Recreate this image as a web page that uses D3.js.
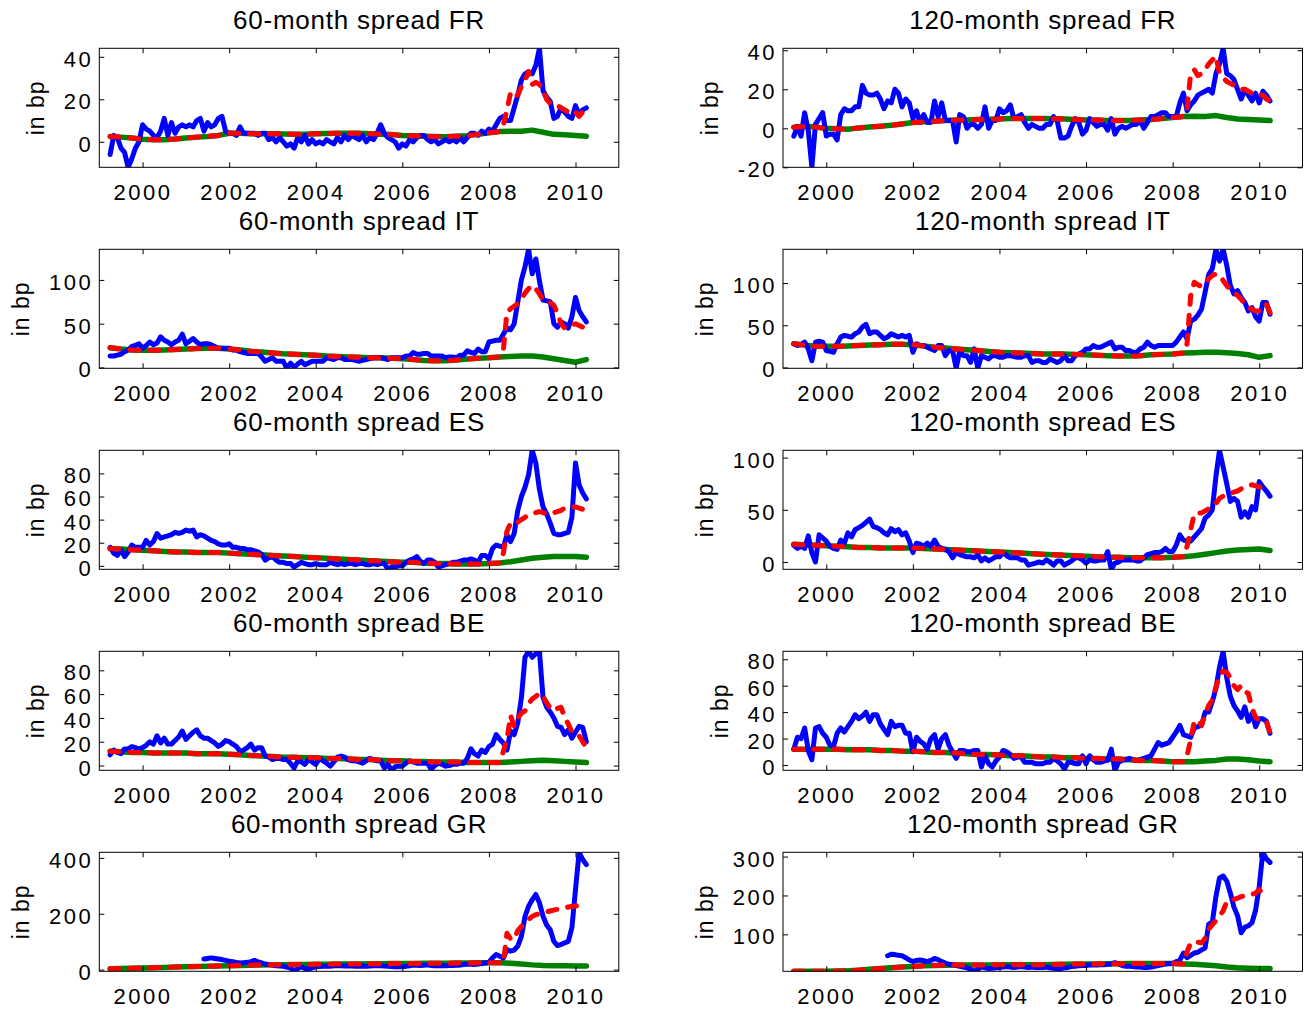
<!DOCTYPE html>
<html>
<head>
<meta charset="utf-8">
<script src="https://cdn.jsdelivr.net/npm/d3@7"></script>
<style>
  body { margin: 0; background: #fff; }
  text { font-family: "Liberation Sans", Arial, sans-serif; fill: #000; }
  .tick text { font-size: 22px; letter-spacing: 2.5px; }
  .title { font-size: 26px; letter-spacing: 0.75px; }
  .ylab { font-size: 23px; letter-spacing: 1px; }
</style>
</head>
<body>
<svg id="chart" width="1315" height="1013"></svg>
<script>
// monthly observations start April 1999, smooth component is quarterly,
// model fit departs from the smooth component from May 2008 on
var firstObs = 1999 + 3 / 12;
var fitStart = 2008 + 4 / 12;
var xTicks = [2000, 2002, 2004, 2006, 2008, 2010];

var titles = ["60-month spread FR", "120-month spread FR", "60-month spread IT", "120-month spread IT",
  "60-month spread ES", "120-month spread ES", "60-month spread BE", "120-month spread BE",
  "60-month spread GR", "120-month spread GR"];

var fr60Ticks = [0, 20, 40];
var fr120Ticks = [-20, 0, 20, 40];
var it60Ticks = [0, 50, 100];
var it120Ticks = [0, 50, 100];
var es60Ticks = [0, 20, 40, 60, 80];
var es120Ticks = [0, 50, 100];
var be60Ticks = [0, 20, 40, 60, 80];
var be120Ticks = [0, 20, 40, 60, 80];
var gr60Ticks = [0, 200, 400];
var gr120Ticks = [100, 200, 300];

// ---- France ----
var fr60Actual = [
  -6, 3, 2, -3, -5, -12, -8, -3, 0,
  8, 6, 5, 3, 2, 5, 11, 3, 9, 4, 7, 8,
  7, 8, 7, 10, 11, 5, 9, 7, 8, 11, 12, 5,
  4, 4, 3, 7, 4, 4, 4, 4, 3, 4, 4, 1,
  2, 0, 2, 0, -2, -1, -3, 2, 0, 3, -1, 1,
  -1, 0, -1, 1, 0, -1, 2, 0, 3, 1, 3, 2,
  1, 3, 0, 2, 1, 4, 8, 4, 2, 1, 0, -3,
  -1, -2, 1, 0, 2, 3, 3, 1, 0, 1, -1, 0,
  1, 0, 1, 0, 2, 0, 2, 4, 4, 3, 5, 4,
  6, 5, 8, 11, 12, 10, 10, 16, 22, 29, 32, 33,
  32, 36, 44, 24, 21, 19, 11, 12, 16, 14, 12, 11,
  17, 13, 15, 16];
var fr60Trend = [2.5, 2.2, 1.8, 1.2, 1.0, 1.0, 1.3, 1.8, 2.2, 2.5, 3.0, 4.0, 4.0, 3.8, 3.8,
  3.8, 3.7, 3.6, 3.6, 3.8, 3.9, 4.0, 4.0, 4.0, 3.8, 3.6, 3.4, 3.0, 2.8, 2.6, 2.5,
  2.4, 2.6, 2.9, 3.5, 4.2, 4.8, 5.0, 5.0, 5.5, 4.5, 3.5, 3.3, 3.0, 2.6];
var fr60Fit = [8, 15, 23, 21, 22, 26, 29, 33, 27, 28, 27, 24, 20, 18, 17, 17, 16, 15, 14, 13, 14, 12, 14, 11];

var fr120Actual = [
  -4, 1, -4, 8, -1, -20, 2, 5, 8,
  -4, -3, -3, -6, 7, 10, 9, 9, 11, 11, 22, 18,
  17, 17, 18, 15, 10, 14, 13, 20, 18, 11, 15, 13,
  5, 9, 3, 7, 3, 3, 14, 6, 13, 4, 4, 4,
  -7, 7, 6, 0, 2, 2, 0, 2, 11, 0, 4, 4,
  10, 8, 9, 12, 5, 6, 7, 3, 0, 2, 1, 0,
  0, 2, 2, 6, 4, -5, -5, -4, 1, 5, 3, -3,
  -1, 5, 3, 1, 2, 2, -1, 5, -3, 0, 1, 0,
  1, 2, 2, 4, 0, 3, 6, 6, 7, 8, 8, 6,
  6, 6, 13, 18, 9, 12, 14, 17, 18, 19, 20, 18,
  28, 33, 41, 28, 27, 25, 20, 15, 20, 17, 14, 18,
  13, 19, 17, 14];
var fr120Trend = [0.5, 1.0, 0.6, 0.0, -0.3, -0.5, 0.2, 0.6, 1.0, 1.5, 2.2, 3.0, 3.3, 3.6, 4.0,
  4.2, 4.3, 4.5, 4.6, 4.8, 5.0, 5.0, 5.0, 5.0, 4.9, 4.8, 4.5, 4.3, 4.2, 4.0, 4.0,
  4.0, 4.2, 4.5, 5.0, 5.5, 6.0, 6.2, 6.0, 6.5, 5.5, 4.8, 4.5, 4.3, 4.0];
var fr120Fit = [10, 28, 30, 27, 28, 30, 33, 35, 37, 28, 26, 24, 23, 22, 21, 20, 20, 19, 18, 18, 17, 17, 15, 14];

// ---- Italy ----
var it60Actual = [
  13, 13, 14, 15, 18, 20, 24, 25, 27,
  22, 25, 29, 26, 28, 35, 31, 29, 26, 29, 31, 38,
  27, 30, 33, 29, 26, 27, 27, 26, 24, 22, 22, 22,
  22, 20, 20, 18, 17, 16, 16, 16, 16, 12, 7, 9,
  11, 7, 7, 7, -1, 5, 0, 4, 7, 3, 5, 7,
  7, 7, 7, 11, 10, 9, 11, 11, 9, 9, 9, 8,
  7, 8, 9, 10, 11, 11, 11, 10, 9, 11, 11, 11,
  11, 13, 13, 17, 15, 15, 16, 16, 13, 13, 13, 13,
  11, 12, 12, 11, 14, 14, 19, 17, 16, 21, 18, 18,
  29, 30, 31, 31, 38, 45, 43, 50, 75, 100, 115, 135,
  107, 124, 99, 77, 76, 75, 50, 46, 52, 50, 45, 58,
  80, 65, 58, 52];
var it60Trend = [22.5, 21, 20, 19.5, 19.5, 20, 20.5, 21, 21.5, 22, 22, 21, 20, 18.5, 17.5,
  16.5, 15.5, 15, 14.5, 14, 13, 12.5, 12, 11.5, 11, 11, 10.5, 10, 9, 8, 7.5,
  7.5, 8.5, 9.5, 10.5, 11, 12, 12.5, 13, 13, 12, 10, 8, 6, 9];
var it60Fit = [20, 63, 67, 70, 73, 78, 85, 90, 94, 90, 84, 77, 75, 74, 71, 62, 50, 45, 46, 48, 50, 48, 46, 47];

var it120Actual = [
  28, 26, 27, 30, 22, 8, 30, 31, 30,
  20, 19, 18, 28, 36, 38, 37, 36, 40, 42, 48, 51,
  40, 42, 42, 38, 34, 36, 40, 38, 36, 38, 36, 38,
  18, 28, 26, 26, 24, 22, 20, 26, 26, 14, 20, 20,
  -1, 20, 14, 14, 6, 22, -1, 14, 12, 10, 14, 14,
  12, 12, 14, 14, 13, 12, 12, 14, 14, 6, 8, 8,
  6, 6, 10, 8, 6, 8, 14, 8, 8, 14, 16, 18,
  22, 22, 26, 24, 24, 26, 28, 30, 22, 24, 24, 20,
  20, 18, 18, 22, 24, 30, 26, 24, 26, 26, 26, 26,
  26, 30, 36, 42, 34, 55, 57, 62, 69, 89, 110, 117,
  140, 126, 140, 121, 97, 87, 91, 83, 77, 67, 71, 60,
  55, 77, 77, 63];
var it120Trend = [28, 26.5, 25, 25, 25, 25.5, 26, 26.5, 27, 27.5, 27.5, 27, 25.5, 24, 23,
  22, 21, 20, 19, 18, 17.5, 17, 16.5, 16, 16, 16, 15.5, 15, 14.5, 14, 13.5,
  13.5, 14, 15, 15.5, 16, 17, 17.5, 18, 18, 17.5, 16.5, 15, 12, 14];
var it120Fit = [28, 85, 101, 98, 96, 99, 105, 109, 111, 109, 103, 97, 92, 89, 85, 81, 75, 71, 69, 67, 67, 69, 75, 65];

// ---- Spain ----
var es60Actual = [
  16, 11, 9, 14, 8, 12, 18, 16, 16,
  16, 22, 18, 21, 28, 24, 25, 26, 27, 29, 28, 29,
  31, 30, 31, 25, 27, 26, 24, 22, 21, 19, 18, 18,
  19, 16, 16, 15, 15, 14, 14, 13, 12, 10, 5, 7,
  8, 5, 3, 3, 2, 2, -1, 1, 3, 2, 1, 1,
  2, 1, 1, 1, 3, 2, 1, 2, 1, 2, 2, 1,
  2, 2, 1, 1, 2, 1, 2, 2, -3, -1, -1, 0,
  0, 3, 5, 6, 8, 4, 2, 5, 5, 3, -1, 0,
  1, 2, 3, 3, 4, 5, 5, 6, 5, 3, 9, 9,
  6, 15, 18, 17, 16, 27, 21, 28, 48, 60, 68, 79,
  100, 89, 66, 51, 45, 37, 28, 27, 27, 28, 29, 42,
  89, 70, 63, 58];
var es60Trend = [15, 14.5, 14, 13.5, 13, 12.5, 12, 12, 11.5, 11.5, 11.5, 11, 10.5, 10, 9.5,
  9, 8.5, 8, 7.5, 7, 6.5, 6, 5.5, 5, 4.5, 4, 3.5, 3, 3, 2.5, 2,
  2, 1.5, 1.5, 1.5, 2, 2.5, 3.5, 5, 6.5, 7.5, 8, 8, 8, 7.5];
var es60Fit = [11, 30, 37, 36, 38, 40, 42, 44, 45, 46, 47, 46, 45, 45, 46, 47, 48, 50, 50, 51, 51, 50, 49, 48];

var es120Actual = [
  16, 13, 15, 13, 25, 9, 0, 26, 23,
  20, 15, 13, 12, 21, 18, 28, 24, 31, 33, 35, 38,
  41, 34, 33, 31, 28, 26, 32, 29, 31, 26, 28, 20,
  9, 18, 17, 15, 18, 15, 21, 15, 13, 12, 10, 4,
  9, 7, 6, 5, 5, 4, 7, 1, 4, 1, 3, 5,
  5, 9, 6, 4, 4, 4, 2, 2, -3, -2, -1, 0,
  -1, 2, 0, -3, 1, 1, -3, -1, 1, 4, 4, 2,
  -1, 2, 1, 1, 2, 2, 10, -7, -1, 0, 2, 2,
  2, 2, 1, 1, 4, 7, 8, 9, 9, 10, 13, 10,
  10, 16, 26, 21, 20, 20, 24, 28, 32, 42, 45, 50,
  82, 107, 91, 75, 58, 61, 58, 43, 48, 43, 53, 50,
  77, 72, 68, 63];
var es120Trend = [17, 16.5, 16, 15.5, 15, 14.5, 14, 14, 13.5, 13.5, 13.5, 13.5, 13, 12.5, 12,
  11.5, 11, 10.5, 10, 9.5, 9, 8.5, 8, 7.5, 7, 6.5, 6, 5.5, 5, 4.5, 4.5,
  4, 4, 4, 4, 4.5, 5, 6, 7.5, 9, 10.5, 11.5, 12, 12.5, 11];
var es120Fit = [15, 31, 46, 47, 47, 49, 51, 53, 56, 61, 63, 64, 66, 67, 68, 70, 72, 73, 74, 73, 72, 71, 70, 70];

// ---- Belgium ----
var be60Actual = [
  9, 13, 11, 10, 14, 14, 16, 15, 14,
  15, 17, 20, 18, 25, 19, 23, 18, 18, 21, 24, 29,
  22, 25, 28, 30, 25, 23, 23, 21, 19, 16, 18, 21,
  20, 18, 16, 12, 13, 15, 18, 13, 15, 15, 8, 7,
  5, 6, 6, 5, 5, 2, -2, 4, 3, 1, 5, 3,
  1, 6, 4, 2, -0.5, 3, 7, 8, 7, 5, 4, 4,
  3, 2, 4, 6, 5, 4, 4, -2, 1, -4, -1, -0.5,
  -0.5, 2, 4, 3, 2, 2, 2, 2, -3, 0, 2, 1,
  -0.5, 0, 1, 1, 2, 2, 6, 14, 10, 8, 13, 11,
  16, 18, 26, 22, 19, 13, 29, 26, 36, 57, 91, 96,
  91, 94, 96, 57, 49, 45, 40, 33, 32, 26, 30, 23,
  28, 33, 32, 20];
var be60Trend = [12, 11.5, 11, 11, 10.5, 10.5, 10.5, 10.5, 10, 10, 10, 9.5, 9, 8.5, 8,
  7.5, 7, 7, 6.5, 6.5, 6, 6, 5.5, 5, 5, 4.5, 4, 4, 3.5, 3.5, 3,
  3, 3, 2.5, 2.5, 2.5, 2.5, 3, 3.5, 4, 4.5, 4, 3.5, 3, 2.5];
var be60Fit = [12, 22, 42, 33, 40, 44, 46, 52, 56, 58, 61, 58, 53, 48, 46, 48, 49, 40, 35, 28, 26, 25, 20, 15];

var be120Actual = [
  12, 21, 20, 28, 11, 4, 28, 29, 24,
  21, 15, 14, 24, 28, 25, 29, 33, 38, 35, 37, 40,
  33, 38, 38, 31, 27, 23, 33, 29, 30, 30, 24, 24,
  10, 21, 18, 16, 12, 20, 23, 12, 20, 23, 15, 10,
  5, 11, 11, 10, 10, 11, 11, -1.5, 7, 1, -1.5, 3,
  6, 11, 10, 8, 5, 6, 6, 2, 2, 2, 1, 1,
  1, 2, 2, 5, 3, 1, -3, 2, 2, 1, 1, 7,
  1, 7, 4, 2, 2, 3, 3.5, 12, -4, 2, 3.5, 4,
  5, 4, 3.5, 4, 5, 6, 7, 12, 17, 15, 16, 17,
  21, 25, 30, 23, 22, 21, 28, 29, 30, 40, 40, 48,
  58, 74, 86, 66, 52, 45, 41, 36, 44, 33, 39, 29,
  35, 35, 33, 24];
var be120Trend = [12, 12, 12, 12, 12, 11.5, 11.5, 11.5, 11, 11, 10.5, 10.5, 10, 9.5, 9.5,
  9, 8.5, 8, 8, 7.5, 7, 7, 6.5, 6, 6, 5.5, 5.5, 5, 5, 4.5, 4.5,
  4, 3.5, 3.5, 3, 2.5, 2.5, 2.5, 3, 3.5, 4.5, 4.5, 4, 3, 2.5];
var be120Fit = [7, 19, 33, 34, 30, 38, 45, 49, 59, 67, 71, 70, 66, 60, 57, 60, 56, 54, 43, 36, 34, 33, 33, 24];

// ---- Greece (observations start June 2001) ----
var gr60Actual = [
  null, null, null, null, null, null, null, null, null,
  null, null, null, null, null, null, null, null, null, null, null, null,
  null, null, null, null, null, 38, 40, 42, 40, 38, 36, 33,
  30, 28, 26, 24, 25, 26, 28, 33, 28, 24, 20, 18,
  16, 14, 13, 12, 9, 6, -6, 4, 10, 4, 2, 6,
  10, 11, 12, 13, 12, 14, 15, 14, 13, 14, 13, 12,
  12, 13, 12, 13, 14, 15, 14, 13, 12, 11, 10, 10,
  10, 12, 14, 16, 16, 15, 16, 17, 15, 14, 14, 14,
  14, 15, 15, 16, 16, 18, 19, 19, 18, 20, 22, 24,
  26, 42, 54, 48, 42, 72, 66, 70, 84, 119, 190, 227,
  250, 269, 239, 191, 160, 143, 101, 86, 90, 96, 101, 150,
  287, 420, 394, 376];
var gr60Trend = [3, 4, 5, 6, 7, 8, 9, 10, 11, 12, 13, 14, 15, 16, 16.5,
  17, 17.5, 18, 18.5, 19, 19.5, 20, 20, 20.5, 21, 21, 21.5, 22, 22, 22.5, 23,
  23, 23.5, 24, 24.5, 25, 25, 23, 20, 17, 15, 14, 13.5, 13, 13];
var gr60Fit = [24, 130, 110, 108, 140, 155, 170, 180, 190, 197, 200, 204, 207, 210, 213, 216, 219, 221, 224, 226, 228, 229, 231, 232];

var gr120Actual = [
  null, null, null, null, null, null, null, null, null,
  null, null, null, null, null, null, null, null, null, null, null, null,
  null, null, null, null, null, 45, 49, 48, 46, 45, 40, 34,
  30, 33, 34, 32, 30, 33, 38, 35, 30, 26, 23, 22,
  20, 18, 16, 14, 10, 5, 10, 16, 14, 12, 13, 14,
  15, 16, 17, 16, 15, 16, 17, 16, 15, 16, 15, 15,
  15, 16, 14, 13, 12, 12, 14, 15, 17, 18, 19, 20,
  20, 21, 22, 21, 22, 22, 23, 24, 27, 24, 20, 18,
  18, 17, 16, 16, 15, 15, 16, 18, 20, 22, 24, 25,
  25, 30, 34, 52, 40, 46, 52, 54, 60, 65, 126, 131,
  197, 245, 250, 237, 206, 170, 148, 104, 118, 122, 130, 162,
  223, 311, 294, 285];
var gr120Trend = [5, 5, 5, 5, 5.5, 6.5, 8, 10, 12, 14, 16, 17.5, 19, 20, 20.5,
  21, 21, 21.5, 21.5, 22, 22, 22, 22, 22, 22.5, 23, 23.5, 24, 24, 24.5, 24.5,
  25, 25, 25, 25, 25, 24, 23, 21, 19, 16, 14, 13, 12, 12];
var gr120Fit = [55, 78, 82, 80, 78, 90, 113, 125, 135, 148, 160, 184, 186, 190, 193, 197, 199, 201, 203, 206, 215, 206, 203, 201];

var panels = [
  {actual: fr60Actual, trend: fr60Trend, fit: fr60Fit, ticks: fr60Ticks},
  {actual: fr120Actual, trend: fr120Trend, fit: fr120Fit, ticks: fr120Ticks},
  {actual: it60Actual, trend: it60Trend, fit: it60Fit, ticks: it60Ticks},
  {actual: it120Actual, trend: it120Trend, fit: it120Fit, ticks: it120Ticks},
  {actual: es60Actual, trend: es60Trend, fit: es60Fit, ticks: es60Ticks},
  {actual: es120Actual, trend: es120Trend, fit: es120Fit, ticks: es120Ticks},
  {actual: be60Actual, trend: be60Trend, fit: be60Fit, ticks: be60Ticks},
  {actual: be120Actual, trend: be120Trend, fit: be120Fit, ticks: be120Ticks},
  {actual: gr60Actual, trend: gr60Trend, fit: gr60Fit, ticks: gr60Ticks},
  {actual: gr120Actual, trend: gr120Trend, fit: gr120Fit, ticks: gr120Ticks}
];

var svg = d3.select("#chart");
var colLeft = [99.3, 783];
var boxW = 519.5, boxH = 119;
var rowTop = 48.3, rowStep = 201;

function noLabel() { return ""; }
function plain(d) { return String(d); }   // keep ascii hyphen for negatives, like the original

panels.forEach(function(p, i) {
  var left = colLeft[i % 2];
  var top = rowTop + Math.floor(i / 2) * rowStep;

  var actualPts = p.actual.map(function(v, k) { return {t: firstObs + k / 12, v: v}; });
  var trendPts = p.trend.map(function(v, k) { return {t: firstObs + k / 4, v: v}; });
  var fitPts = trendPts.filter(function(d) { return d.t < fitStart - 0.01; })
    .concat(p.fit.map(function(v, k) { return {t: fitStart + k / 12, v: v}; }));

  var allVals = p.actual.filter(function(v) { return v != null; }).concat(p.trend, p.fit);

  var x = d3.scaleLinear().domain([1999, 2011]).range([left, left + boxW]);
  var y = d3.scaleLinear().domain(d3.extent(allVals)).range([top + boxH, top]);

  var g = svg.append("g");

  g.append("clipPath").attr("id", "clip" + i)
    .append("rect").attr("x", left).attr("y", top).attr("width", boxW).attr("height", boxH);

  var line = d3.line()
    .defined(function(d) { return d.v != null; })
    .x(function(d) { return x(d.t); })
    .y(function(d) { return y(d.v); });

  var plot = g.append("g").attr("clip-path", "url(#clip" + i + ")");

  plot.append("path").datum(trendPts).attr("d", line)
    .attr("fill", "none").attr("stroke", "#008000").attr("stroke-width", 5.5)
    .attr("stroke-linejoin", "round").attr("stroke-linecap", "round");

  plot.append("path").datum(actualPts).attr("d", line)
    .attr("fill", "none").attr("stroke", "#0000ff").attr("stroke-width", 5)
    .attr("stroke-linejoin", "round").attr("stroke-linecap", "round");

  plot.append("path").datum(fitPts).attr("d", line)
    .attr("fill", "none").attr("stroke", "#ff0000").attr("stroke-width", 5)
    .attr("stroke-dasharray", "9,11")
    .attr("stroke-linejoin", "round").attr("stroke-linecap", "round");

  // axes, ticks pointing inward on all four sides
  g.append("g").attr("transform", "translate(0," + (top + boxH) + ")")
    .call(d3.axisBottom(x).tickValues(xTicks).tickFormat(plain)
      .tickSizeInner(-5).tickSizeOuter(0).tickPadding(17))
    .call(function(a) { a.select(".domain").remove(); });

  g.append("g").attr("transform", "translate(0," + top + ")")
    .call(d3.axisTop(x).tickValues(xTicks).tickFormat(noLabel).tickSizeInner(-5).tickSizeOuter(0))
    .call(function(a) { a.select(".domain").remove(); });

  var yAxis = g.append("g").attr("transform", "translate(" + left + ",0)")
    .call(d3.axisLeft(y).tickValues(p.ticks).tickFormat(plain).tickSizeInner(-5).tickSizeOuter(0).tickPadding(6))
    .call(function(a) { a.select(".domain").remove(); });
  yAxis.selectAll("text").attr("dy", "0.43em");

  g.append("g").attr("transform", "translate(" + (left + boxW) + ",0)")
    .call(d3.axisRight(y).tickValues(p.ticks).tickFormat(noLabel).tickSizeInner(-5).tickSizeOuter(0))
    .call(function(a) { a.select(".domain").remove(); });

  g.selectAll(".tick line").attr("stroke", "#000");

  g.append("rect").attr("x", left).attr("y", top).attr("width", boxW).attr("height", boxH)
    .attr("fill", "none").attr("stroke", "#000").attr("stroke-width", 1);

  g.append("text").attr("class", "title")
    .attr("x", left + boxW / 2).attr("y", top - 19)
    .attr("text-anchor", "middle")
    .text(titles[i]);

  var maxW = d3.max(yAxis.selectAll("text").nodes(), function(n) { return n.getComputedTextLength(); });
  var lx = left - 6 - maxW - 20;
  g.append("text").attr("class", "ylab")
    .attr("transform", "translate(" + lx + "," + (top + boxH / 2) + ") rotate(-90)")
    .attr("text-anchor", "middle")
    .text("in bp");
});
</script>
</body>
</html>
